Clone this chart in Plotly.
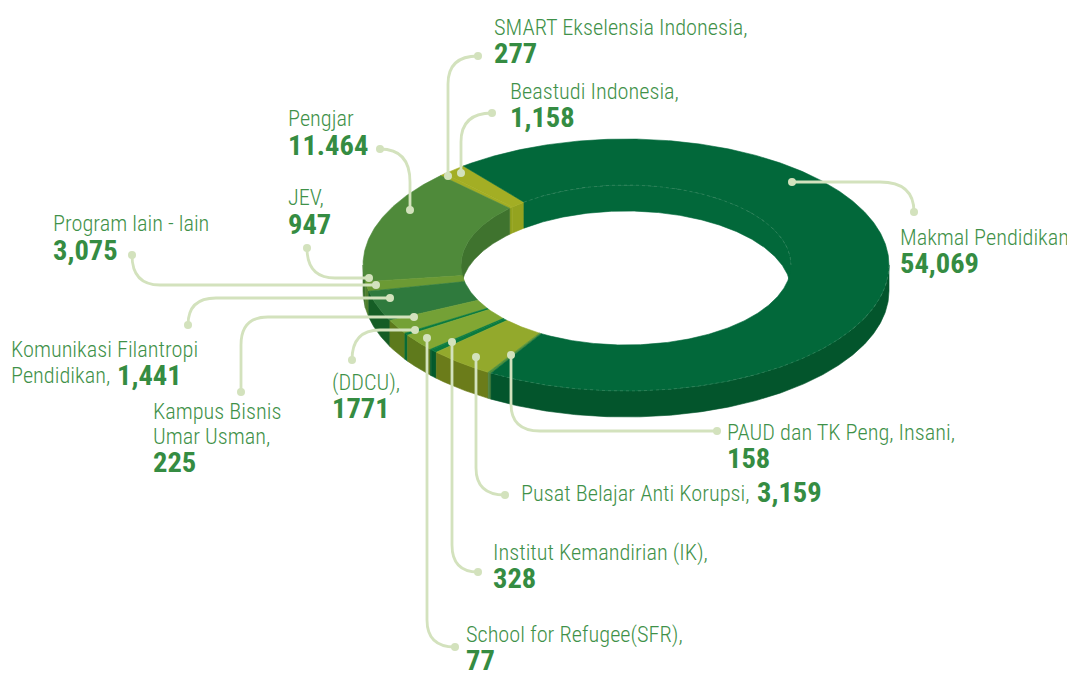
import math
import plotly.graph_objects as go

# Slices, counter-clockwise from the Makmal / Beastudi boundary
slice_names = ["Beastudi Indonesia", "SMART Ekselensia Indonesia", "Pengajar", "JEV", "Program lain - lain",
               "Komunikasi Filantropi Pendidikan", "Kampus Bisnis Umar Usman", "DDCU",
               "School for Refugee (SFR)", "Institut Kemandirian (IK)", "Pusat Belajar Anti Korupsi",
               "PAUD dan TK Peng, Insani", "Makmal Pendidikan"]
slice_values = [1158, 277, 11464, 947, 3075, 1441, 225, 1771, 77, 328, 3159, 158, 54069]
top_colors = ["#a3ae24", "#a3ae24", "#4f8a3a", "#6b9a34", "#2f7a3d", "#74a136", "#0a7b3f", "#82a733",
              "#0a7b3f", "#0a7b3f", "#93a92c", "#4f8f3a", "#02683a"]
wall_colors = ["#94a31f", "#94a31f", "#3f732e", "#4f7f2f", "#155d25", "#5d7a1c", "#086b36", "#5f7a1c",
               "#045a2c", "#045a2c", "#6b7c1a", "#4d8240", "#03552c"]

# Labels: regular lines and bold value
text_lines = [
    ("SMART Ekselensia Indonesia,", 494, 27), ("Beastudi Indonesia,", 510, 91), ("Pengjar", 288, 118),
    ("JEV,", 288, 197), ("Program lain - lain", 53, 223), ("Makmal Pendidikan", 900, 237),
    ("Komunikasi Filantropi", 11, 349), ("Pendidikan,", 11, 375), ("Kampus Bisnis", 153, 411),
    ("Umar Usman,", 153, 436), ("(DDCU),", 332, 382), ("PAUD dan TK Peng, Insani,", 727, 432),
    ("Pusat Belajar Anti Korupsi,", 521, 493), ("Institut Kemandirian (IK),", 493, 552),
    ("School for Refugee(SFR),", 466, 634),
]
value_lines = [
    ("277", 494, 53), ("1,158", 510, 117), ("11.464", 288, 145), ("947", 288, 224), ("3,075", 53, 250),
    ("54,069", 900, 263), ("1,441", 117, 375), ("225", 153, 462), ("1771", 332, 408), ("158", 727, 458),
    ("3,159", 757, 492), ("328", 493, 578), ("77", 466, 660),
]
leader_paths = [
    "M448,176 L448,84 Q448,56 478,56",
    "M461,173 L461,142 Q461,113 492,113",
    "M410,210 L410,182 Q410,149 380,149",
    "M369,278 L335,278 Q307,278 307,248",
    "M376,285 L160,285 Q132,285 132,255",
    "M390,298 L216,298 Q188,298 188,325",
    "M414,317 L268,317 Q241,317 241,345 L241,392",
    "M415,330 L380,330 Q352,330 352,360",
    "M427,338 L427,620 Q427,647 455,647",
    "M452,342 L452,545 Q452,572 478,572",
    "M476,357 L476,468 Q476,495 505,495",
    "M511,355 L511,404 Q511,431 540,431 L717,431",
    "M792,182 L880,182 Q914,182 914,212",
]
dot_x = [448, 478, 461, 492, 410, 380, 369, 307, 376, 132, 390, 188, 414, 241, 415, 352, 427, 455, 452, 478, 476, 505, 511, 717, 792, 914]
dot_y = [176, 56, 173, 113, 210, 149, 278, 248, 285, 255, 298, 325, 317, 392, 330, 360, 338, 647, 342, 572, 357, 495, 355, 431, 182, 212]

CX, CY, RX, RY, IX, IY, DEPTH, START = 626, 265, 263, 126, 165, 80, 26, 128.2
LINE = "#d3e2bd"
TXT = "#3f9149"
BOLD = "#358c42"
FONT = "Roboto, 'DejaVu Sans', sans-serif"


def arc(rx, ry, a, b, dy=0, n=None):
    n = n or max(3, int(abs(b - a) * 2))
    xs, ys = [], []
    for i in range(n + 1):
        t = math.radians(a + (b - a) * i / n)
        xs.append(CX + rx * math.cos(t))
        ys.append(CY - ry * math.sin(t) + dy)
    return xs, ys


def poly(xs, ys, color, name):
    return go.Scatter(x=xs + xs[:1], y=ys + ys[:1], mode="lines", fill="toself", fillcolor=color,
                      line=dict(color=color, width=0.6), hoverinfo="text", text=name, showlegend=False)


fig = go.Figure()
total = sum(slice_values)
walls, tops = [], []
a = START
for name, v, tc, wc in zip(slice_names, slice_values, top_colors, wall_colors):
    b = a + v / total * 360
    for lo, hi in ((180, 360), (540, 720)):
        s, e = max(a, lo), min(b, hi)
        if e > s:
            x1, y1 = arc(RX, RY, s, e)
            x2, y2 = arc(RX, RY, e, s, DEPTH)
            walls.append(poly(x1 + x2, y1 + y2, wc, name))
    for lo, hi in ((0, 180), (360, 540)):
        s, e = max(a, lo), min(b, hi)
        if e > s:
            x1, y1 = arc(IX, IY, s, e)
            x2, y2 = arc(IX, IY, e, s, DEPTH)
            col = tc if name.startswith("Makmal") else wc
            walls.append(poly(x1 + x2, y1 + y2, col, name))
    x1, y1 = arc(RX, RY, a, b)
    x2, y2 = arc(IX, IY, b, a)
    tops.append(poly(x1 + x2, y1 + y2, tc, name))
    a = b
for tr in walls + tops:
    fig.add_trace(tr)

mak_start = START + sum(slice_values[:-1]) / total * 360
sx, sy = arc(IX, IY, START, 0)
fig.add_trace(go.Scatter(x=sx, y=sy, mode="lines", line=dict(color="#5f9c78", width=0.4, dash="dot"),
                         hoverinfo="skip", showlegend=False))
sx, sy = arc(RX, RY, 360, mak_start)
fig.add_trace(go.Scatter(x=sx, y=sy, mode="lines", line=dict(color="#5f9c78", width=0.4, dash="dot"),
                         hoverinfo="skip", showlegend=False))

fig.add_trace(go.Scatter(x=dot_x, y=dot_y, mode="markers", marker=dict(color=LINE, size=8),
                         hoverinfo="skip", showlegend=False))

shapes = [dict(type="path", path=p, xref="x", yref="y", line=dict(color=LINE, width=2.8), layer="above")
          for p in leader_paths]

annos = []
for t, x, y in text_lines:
    annos.append(dict(x=x, y=y, text="<span style='font-stretch:75%;font-weight:300'>" + t + "</span>", xref="x", yref="y", xanchor="left", yanchor="middle", showarrow=False,
                      xshift=-2, font=dict(family=FONT, size=22.3, color=TXT)))
for t, x, y in value_lines:
    annos.append(dict(x=x, y=y, text="<b style='font-stretch:75%'>" + t + "</b>", xref="x", yref="y", xanchor="left", yanchor="middle",
                      showarrow=False, xshift=-2, font=dict(family=FONT, size=28.5, color=BOLD)))

# the page body has an 8px margin, so the plot area starts at (8, 8)
fig.update_layout(
    width=1067, height=669, margin=dict(l=0, r=0, t=0, b=0), paper_bgcolor="white", plot_bgcolor="white",
    showlegend=False, shapes=shapes, annotations=annos,
    xaxis=dict(range=[8, 1075], visible=False, fixedrange=True),
    yaxis=dict(range=[677, 8], visible=False, fixedrange=True),
)
fig.write_html("out.html", config=dict(displayModeBar=False))
